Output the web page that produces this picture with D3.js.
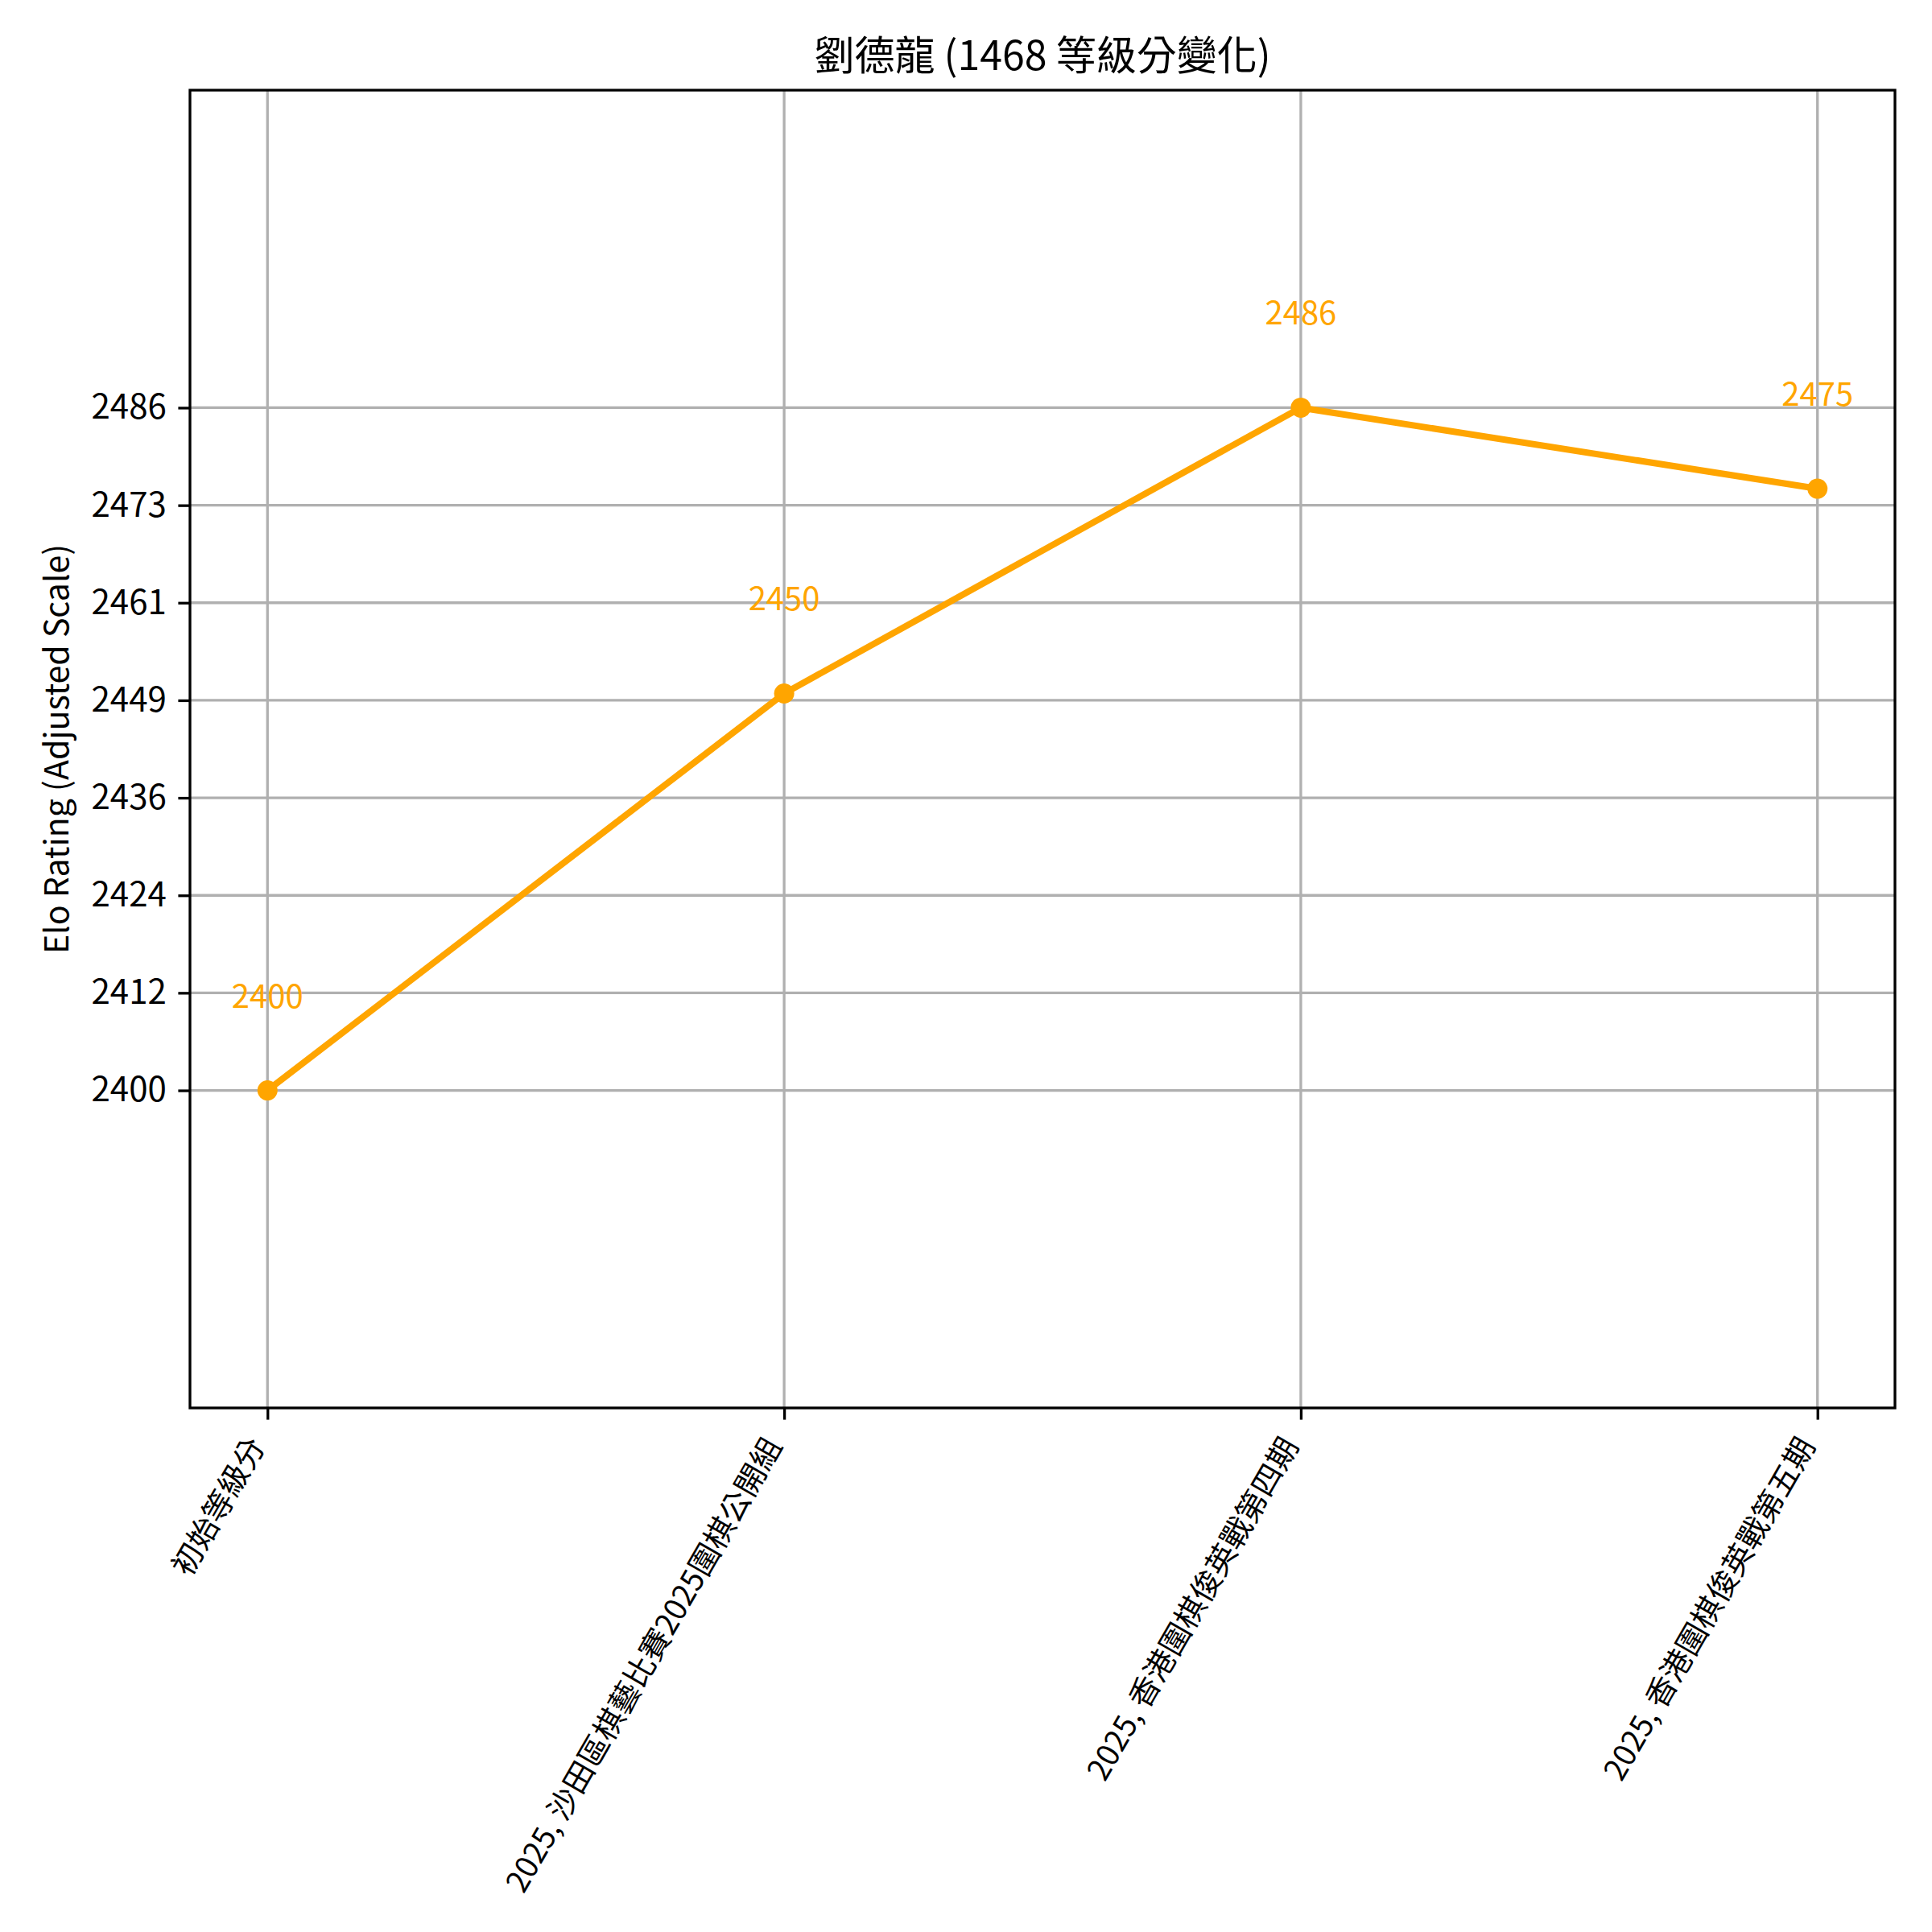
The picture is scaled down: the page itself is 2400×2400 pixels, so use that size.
<!DOCTYPE html>
<html lang="zh-Hant">

<head>
    <meta charset="UTF-8">
    <script src="https://cdnjs.cloudflare.com/ajax/libs/d3/7.8.5/d3.min.js"></script>
    <title>劉德龍 等級分變化</title>
    <style>
        body { margin: 0; background: #fff; }
        svg { display: block; font-family: "Noto Sans CJK TC", "Noto Sans", sans-serif; }
    </style>
</head>

<body>
    <script>
        // 數據
        var categories = ['初始等級分', '2025, 沙田區棋藝比賽2025圍棋公開組', '2025, 香港圍棋俊英戰第四期', '2025, 香港圍棋俊英戰第五期'];
        var ratings = [2400, 2450, 2486, 2475.8];
        var ratingLabels = ['2400', '2450', '2486', '2475'];
        // 刻度位置均勻分佈, 標籤取整數部分
        var yTickValues = [2400, 2412.29, 2424.57, 2436.86, 2449.14, 2461.43, 2473.71, 2486];
        var yTickLabels = ['2400', '2412', '2424', '2436', '2449', '2461', '2473', '2486'];
        var yDomain = [2360, 2526];
        var titleText = '劉德龍 (1468 等級分變化)';
        var yLabelText = 'Elo Rating (Adjusted Scale)';

        var width = 2400, height = 2400;
        // 注意: window.top 是唯讀的, 所以用 plotTop 等名稱
        var plotLeft = 236, plotRight = 2354, plotTop = 112, plotBottom = 1749;
        var lw = 3.3, tickLen = 14.6, tickPad = 14.6;
        var color = '#ffa500';

        var svg = d3.select('body').append('svg')
            .attr('width', width)
            .attr('height', height);
        svg.append('rect').attr('width', width).attr('height', height).attr('fill', '#fff');

        var x = d3.scalePoint().domain(categories).range([plotLeft, plotRight]).padding(0.15);
        var y = d3.scaleLinear().domain(yDomain).range([plotBottom, plotTop]);

        // 網格線
        var grid = svg.append('g').attr('stroke', '#b0b0b0').attr('stroke-width', lw);
        grid.selectAll('.hg').data(yTickValues).enter().append('line')
            .attr('x1', plotLeft).attr('x2', plotRight)
            .attr('y1', function (d) { return y(d); })
            .attr('y2', function (d) { return y(d); });
        grid.selectAll('.vg').data(categories).enter().append('line')
            .attr('y1', plotTop).attr('y2', plotBottom)
            .attr('x1', function (d) { return x(d); })
            .attr('x2', function (d) { return x(d); });

        // 折線和點
        var line = d3.line()
            .x(function (d, i) { return x(categories[i]); })
            .y(function (d) { return y(d); });
        svg.append('path')
            .datum(ratings)
            .attr('d', line)
            .attr('fill', 'none')
            .attr('stroke', color)
            .attr('stroke-width', 8)
            .attr('stroke-linejoin', 'round');
        svg.selectAll('.dot').data(ratings).enter().append('circle')
            .attr('cx', function (d, i) { return x(categories[i]); })
            .attr('cy', function (d) { return y(d); })
            .attr('r', 12.5)
            .attr('fill', color);

        // 數值標籤
        svg.selectAll('.lbl').data(ratings).enter().append('text')
            .attr('x', function (d, i) { return x(categories[i]); })
            .attr('y', function (d) { return y(d) - 120; })
            .attr('text-anchor', 'middle')
            .attr('dominant-baseline', 'central')
            .attr('font-size', 40)
            .attr('fill', color)
            .text(function (d, i) { return ratingLabels[i]; });

        // 座標軸
        var yAxis = d3.axisLeft(y)
            .tickValues(yTickValues)
            .tickFormat(function (d, i) { return yTickLabels[i]; })
            .tickSize(tickLen).tickPadding(tickPad);
        var gy = svg.append('g').attr('transform', 'translate(' + plotLeft + ',0)').call(yAxis);
        gy.select('.domain').remove();
        gy.selectAll('line').attr('stroke', '#000').attr('stroke-width', lw);
        gy.selectAll('text').attr('font-size', 42).attr('fill', '#000')
            .attr('font-family', '"Noto Sans CJK TC", sans-serif');

        var xAxis = d3.axisBottom(x).tickSize(tickLen);
        var gx = svg.append('g').attr('transform', 'translate(0,' + plotBottom + ')').call(xAxis);
        gx.select('.domain').remove();
        gx.selectAll('line').attr('stroke', '#000').attr('stroke-width', lw);
        var fs = 38;
        gx.selectAll('text')
            .attr('x', 0).attr('y', 0).attr('dy', null)
            .attr('font-size', fs).attr('fill', '#000')
            .attr('font-family', '"Noto Sans CJK TC", sans-serif')
            .attr('text-anchor', 'end')
            .attr('dominant-baseline', 'central')
            .attr('transform', 'translate(' + (-0.433 * fs) + ',' + (tickLen + tickPad + 0.25 * fs) + ') rotate(-60)');

        // 邊框
        svg.append('rect')
            .attr('x', plotLeft).attr('y', plotTop)
            .attr('width', plotRight - plotLeft).attr('height', plotBottom - plotTop)
            .attr('fill', 'none').attr('stroke', '#000').attr('stroke-width', lw);

        // 標題
        svg.append('text')
            .attr('x', (plotLeft + plotRight) / 2).attr('y', plotTop - 25)
            .attr('text-anchor', 'middle')
            .attr('font-size', 50)
            .text(titleText);
        svg.append('text')
            .attr('transform', 'translate(67,' + (plotTop + plotBottom) / 2 + ') rotate(-90)')
            .attr('text-anchor', 'middle')
            .attr('dominant-baseline', 'central')
            .attr('font-size', 41)
            .text(yLabelText);
    </script>
</body>

</html>
